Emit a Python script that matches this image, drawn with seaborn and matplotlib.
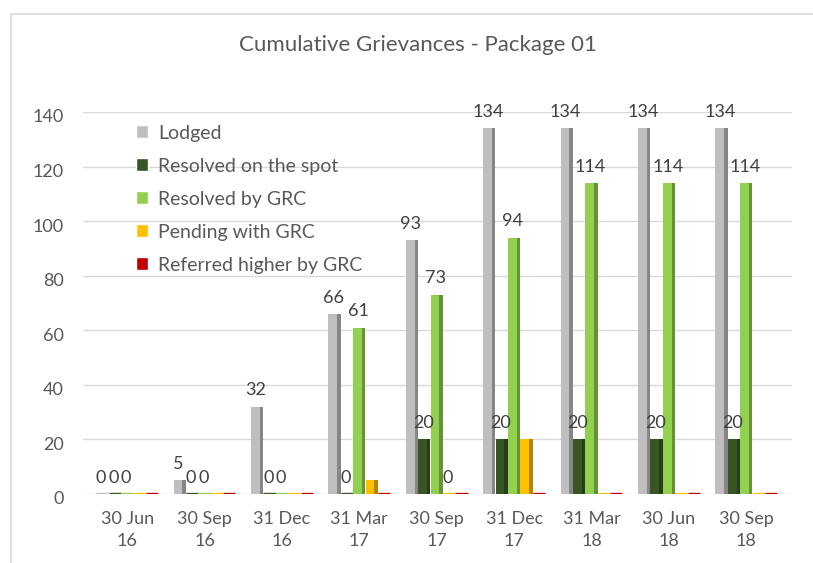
import matplotlib
matplotlib.use('Agg')
import matplotlib.pyplot as plt
import matplotlib.colors as mcolors
import matplotlib.transforms as mtransforms
from matplotlib.patches import Rectangle
import pandas as pd
import seaborn as sns

# chart data
dates = ['30 Jun\n16', '30 Sep\n16', '31 Dec\n16', '31 Mar\n17', '30 Sep\n17',
         '31 Dec\n17', '31 Mar\n18', '30 Jun\n18', '30 Sep\n18']
series = ['Lodged', 'Resolved on the spot', 'Resolved by GRC',
          'Pending with GRC', 'Referred higher by GRC']
lodged = [0, 5, 32, 66, 93, 134, 134, 134, 134]
resolved_spot = [0, 0, 0, 0, 20, 20, 20, 20, 20]
resolved_grc = [0, 0, 0, 61, 73, 94, 114, 114, 114]
pending = [0, 0, 0, 5, 0, 20, 0, 0, 0]
referred = [0, 0, 0, 0, 0, 0, 0, 0, 0]

# which data labels appear in the original
show_lodged = [1, 1, 1, 1, 1, 1, 1, 1, 1]
show_spot = [1, 1, 1, 1, 1, 1, 1, 1, 1]
show_grc = [1, 1, 1, 1, 1, 1, 1, 1, 1]
show_pending = [0, 0, 0, 0, 1, 0, 0, 0, 0]
show_referred = [0, 0, 0, 0, 0, 0, 0, 0, 0]

colors = ['#BFBFBF', '#375623', '#92D050', '#FFC000', '#C00000']
text_col = '#595959'

values = [lodged, resolved_spot, resolved_grc, pending, referred]
shows = [show_lodged, show_spot, show_grc, show_pending, show_referred]

rows = []
for s, vals in zip(series, values):
    for d, v in zip(dates, vals):
        rows.append({'Date': d, 'Type': s, 'Count': v})
df = pd.DataFrame(rows)

sns.set_style('white')
plt.rcParams['font.family'] = ['Lato', 'DejaVu Sans']

fig = plt.figure(figsize=(8.13, 5.63), dpi=100)
ax = fig.add_axes([83 / 813, 1 - 494 / 563, (792 - 83) / 813, (494 - 112) / 563])

sns.barplot(data=df, x='Date', y='Count', hue='Type', hue_order=series,
            palette=colors, saturation=1, width=0.8, gap=0.02,
            errorbar=None, ax=ax)

ax.set_xlim(-0.57, 8.59)
ax.set_ylim(0, 140)
ax.set_yticks(range(0, 141, 20))
ax.set_xlabel('')
ax.set_ylabel('')
ax.grid(axis='y', color='#D9D9D9', linewidth=1)
ax.set_axisbelow(True)
for sp in ax.spines.values():
    sp.set_visible(False)
ax.tick_params(length=0, colors=text_col, labelsize=13)
ax.tick_params(axis='x', pad=12)
ax.tick_params(axis='y', pad=14)

# fake 3D side faces + data labels
for cont, col, show in zip(ax.containers, colors, shows):
    dark = tuple(c * 0.7 for c in mcolors.to_rgb(col))
    for bar, flag in zip(cont.patches, show):
        x, w, h = bar.get_x(), bar.get_width(), bar.get_height()
        bar.set_linewidth(0)
        if h > 0:
            ax.add_patch(Rectangle((x + w * 0.72, 0), w * 0.28, h,
                                   facecolor=dark, edgecolor='none', zorder=bar.get_zorder() + 0.1))
        else:
            bar.set_edgecolor(col)
            bar.set_linewidth(2.4)
        if flag:
            ax.annotate(f'{h:.0f}', (x + w * 0.4, h), xytext=(0, 6),
                        textcoords='offset points', ha='center', va='bottom',
                        fontsize=13, color='#404040')

handles, labels = ax.get_legend_handles_labels()
ax.legend(handles, labels, loc='upper left', bbox_to_anchor=(128 / 813, 1 - 117 / 563),
          bbox_transform=fig.transFigure, frameon=False, fontsize=14,
          labelcolor=text_col, labelspacing=0.82, handlelength=0.65,
          handleheight=0.65, handletextpad=0.5, borderaxespad=0)

fig.text(418 / 813, 1 - 45 / 563, 'Cumulative Grievances - Package 01',
         ha='center', va='center', fontsize=16, color=text_col)

fig.add_artist(Rectangle((11 / 813, -0.05), 1.1, 1 - 14 / 563 + 0.05,
                         transform=fig.transFigure, fill=False,
                         edgecolor='#D9D9D9', linewidth=1.2))

# tweak tick labels after a draw so the settings stick
fig.canvas.draw()
for lab in ax.get_xticklabels():
    lab.set_linespacing(1.45)
shift = mtransforms.ScaledTranslation(0, -4 / 100, fig.dpi_scale_trans)
for lab in ax.get_yticklabels():
    lab.set_transform(lab.get_transform() + shift)

fig.savefig('out.png', dpi=100)
